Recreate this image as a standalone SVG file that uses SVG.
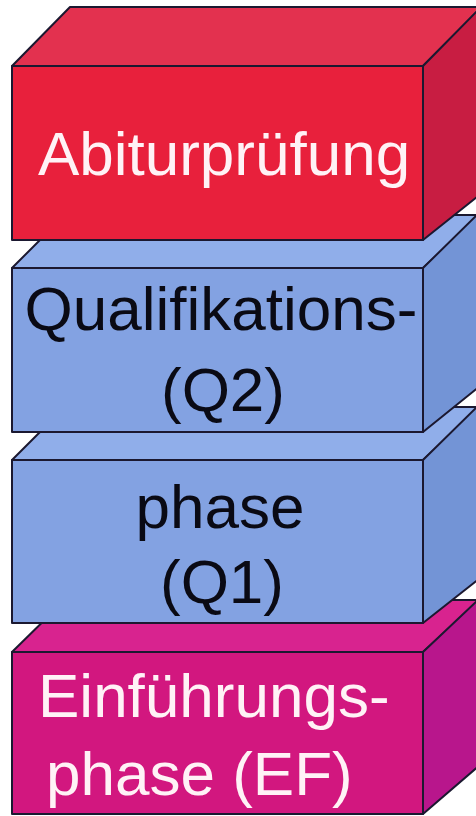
<svg xmlns="http://www.w3.org/2000/svg" width="476" height="816" viewBox="0 0 476 816">
<style>
  .edge { stroke: #1b1830; stroke-width: 2; stroke-linejoin: round; }
  .rf { fill: #e8203c; } .rt { fill: #e3314f; } .rs { fill: #c81d42; }
  .bf { fill: #83a2e2; } .bt { fill: #90aeea; } .bs { fill: #7394d6; }
  .mf { fill: #d2177f; } .mt { fill: #d8238f; } .ms { fill: #b8168c; }
  .lbl { font-family: "Liberation Sans", Arial, Helvetica, sans-serif; font-size: 62px; }
  .light { fill: #fff2f6; } .dark { fill: #0a0a14; }
</style>
<rect width="476" height="816" fill="#ffffff"/>

<g id="ef">
  <polygon class="mt edge" points="12,652 65,600 480,600 423,652"/>
  <polygon class="ms edge" points="423,652 480,598 480,765 423,814"/>
  <rect class="mf edge" x="12" y="652" width="411" height="162"/>
  <text class="lbl light" x="38" y="717">Einführungs-</text>
  <text class="lbl light" x="46" y="795">phase (EF)</text>
</g>

<g id="q1">
  <polygon class="bt edge" points="12,460 65,407 480,407 423,460"/>
  <polygon class="bs edge" points="423,460 480,404 480,578 423,623"/>
  <rect class="bf edge" x="12" y="460" width="411" height="163"/>
  <text class="lbl dark" x="220" y="528" text-anchor="middle">phase</text>
  <text class="lbl dark" x="222" y="603" text-anchor="middle">(Q1)</text>
</g>

<g id="q2">
  <polygon class="bt edge" points="12,268 65,215 480,215 423,268"/>
  <polygon class="bs edge" points="423,268 480,212 480,386 423,432"/>
  <rect class="bf edge" x="12" y="268" width="411" height="164"/>
  <text class="lbl dark" x="221" y="330" text-anchor="middle">Qualifikations-</text>
  <text class="lbl dark" x="223" y="411" text-anchor="middle">(Q2)</text>
</g>

<g id="abitur">
  <polygon class="rt edge" points="12,66 70,7 482,7 423,66"/>
  <polygon class="rs edge" points="423,66 482,6 482,193 423,240"/>
  <rect class="rf edge" x="12" y="66" width="411" height="174"/>
  <text class="lbl light" x="224" y="175" text-anchor="middle">Abiturprüfung</text>
</g>

<g id="connectors"></g>
</svg>
